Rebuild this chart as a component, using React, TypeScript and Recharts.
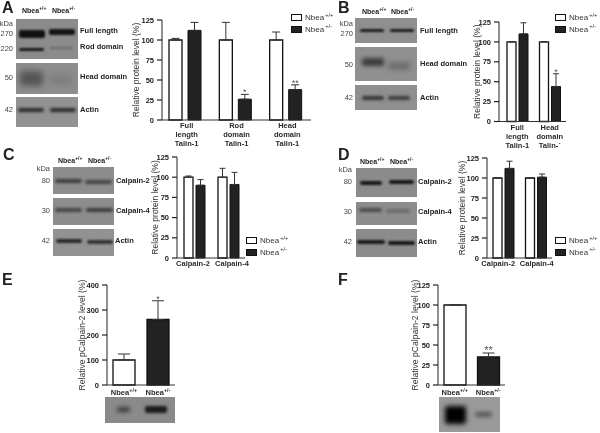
import { BarChart, Bar, XAxis, YAxis, ErrorBar, Legend, Label, LabelList, Cell } from 'recharts'

const FONT = '"Liberation Sans", Arial, sans-serif'
const INK = '#222'
const WT = 'Nbea+/+'
const KO = 'Nbea+/-'

// A
const catsA = ['Full\nlength\nTalin-1', 'Rod\ndomain\nTalin-1', 'Head\ndomain\nTalin-1']
const wtA = [100, 100, 100]
const koA = [112, 26, 38]
const wtErrA = [2, 22, 10]
const koErrA = [10, 6, 6]
const starsA = ['', '*', '**']

// B
const catsB = ['Full\nlength\nTalin-1', 'Head\ndomain\nTalin-´']
const wtB = [100, 100]
const koB = [110, 44]
const wtErrB = [0, 0]
const koErrB = [14, 16]
const starsB = ['', '*']

// C
const catsC = ['Calpain-2', 'Calpain-4']
const wtC = [100, 100]
const koC = [90, 91]
const wtErrC = [1.5, 11]
const koErrC = [7, 15]

// D
const catsD = ['Calpain-2', 'Calpain-4']
const wtD = [100, 100]
const koD = [112, 101]
const wtErrD = [0, 0]
const koErrD = [9, 4]

// E, F
const catsEF = [WT, KO]
const valuesE = [100, 262]
const errE = [24, 75]
const starsE = ['', '*']
const ticksE = [0, 100, 200, 300, 400]
const valuesF = [100, 35]
const errF = [0, 5]
const starsF = ['', '**']
const ticksPct = [0, 25, 50, 75, 100, 125]

const PAD_L = 60
const PAD_T = 10
const PAD_R = 16
const AXIS_H = 36

function Genotype({ name, size = 8, gap = 0 }: { name: string; size?: number; gap?: number }) {
  return (
    <>
      {name.slice(0, 4)}
      <sup style={{ fontSize: size * 0.72, lineHeight: 0, marginLeft: gap }}>{name.slice(4)}</sup>
    </>
  )
}

function CatTick({ x, y, payload, index, shift }: any) {
  const v = String(payload.value)
  const cx = x + (shift?.[index] ?? 0)
  if (v.startsWith('Nbea')) {
    return (
      <text x={cx} y={y + 2} textAnchor="middle" fontSize={7.5} fontWeight={700} fontFamily={FONT} fill="#2a2a2a">
        {v.slice(0, 4)}
        <tspan fontSize={5.5} dy={-3}>{v.slice(4)}</tspan>
      </text>
    )
  }
  return (
    <text x={cx} textAnchor="middle" fontSize={7.5} fontWeight={700} fontFamily={FONT} fill="#2a2a2a">
      {v.split('\n').map((line, i) => (
        <tspan key={i} x={cx} y={y + i * 9}>{line}</tspan>
      ))}
    </text>
  )
}

function LegendBox({ payload }: any) {
  return (
    <div style={{ fontFamily: FONT, fontSize: 8, color: '#333' }}>
      {(payload ?? []).map((p: any) => (
        <div key={p.value} style={{ display: 'flex', alignItems: 'center', height: 11.5 }}>
          <span style={{ width: 9, height: 5, border: '1.5px solid #111', background: p.value === WT ? '#fff' : '#222', marginRight: 3, display: 'inline-block' }} />
          <span><Genotype name={p.value} gap={1} /></span>
        </div>
      ))}
    </div>
  )
}

function Star({ viewBox, index, stars, errs, perUnit, size = 9 }: any) {
  const s = stars[index]
  if (!s || !viewBox) return null
  return (
    <text x={viewBox.x + viewBox.width / 2} y={viewBox.y - errs[index] * perUnit + 1} textAnchor="middle" fontSize={size} fill="#555" fontFamily={FONT}>
      {s}
    </text>
  )
}

type PanelProps = {
  x0: number; x1: number; yTop: number; yBot: number
  cats: string[]; wt: number[]; ko: number[]; wtErr: number[]; koErr: number[]
  stars?: string[]
  barSize: number; gap: number; capW: number; padLeft?: number
  tickShift?: number[]
  labelX: number
  legend?: { left: number; top: number }
}

function GroupedPanel(p: PanelProps) {
  const plotH = p.yBot - p.yTop
  const perUnit = plotH / 125
  const rows = p.cats.map((c, i) => ({ c, wt: p.wt[i], ko: p.ko[i], wtE: [0, p.wtErr[i]], koE: [0, p.koErr[i]] }))
  const cy = plotH / 2 + PAD_T
  const lx = p.labelX - p.x0 + PAD_L
  return (
    <div style={{ position: 'absolute', left: p.x0 - PAD_L, top: p.yTop - PAD_T }}>
      <BarChart
        width={p.x1 - p.x0 + PAD_L + PAD_R}
        height={plotH + PAD_T + AXIS_H}
        data={rows}
        margin={{ top: PAD_T, right: PAD_R, left: 0, bottom: 0 }}
        barSize={p.barSize}
        barGap={p.gap}
      >
        <XAxis dataKey="c" height={AXIS_H} tick={(tp: any) => <CatTick {...tp} shift={p.tickShift} />} tickLine={false} axisLine={{ stroke: '#333', strokeWidth: 1 }} interval={0} padding={{ left: p.padLeft ?? 0, right: 0 }} />
        <YAxis width={PAD_L} domain={[0, 125]} ticks={ticksPct} tickSize={5} tickMargin={3} axisLine={{ stroke: '#222', strokeWidth: 1 }} tickLine={{ stroke: '#222', strokeWidth: 1.2 }} tick={{ fontSize: 7.5, fontWeight: 700, fill: INK, fontFamily: FONT }} interval={0}>
          <Label content={() => (
            <text transform={`rotate(-90 ${lx} ${cy})`} x={lx} y={cy} textAnchor="middle" fontSize={8.5} fill="#333" fontFamily={FONT}>Relative protein level (%)</text>
          )} />
        </YAxis>
        {p.legend && (
          <Legend layout="vertical" align="center" verticalAlign="middle" content={<LegendBox />} wrapperStyle={{ left: p.legend.left - p.x0 + PAD_L, top: p.legend.top - p.yTop + PAD_T, width: 60, height: 24 }} />
        )}
        <Bar dataKey="wt" name={WT} fill="#fff" stroke="#111" strokeWidth={1.3} isAnimationActive={false}>
          <ErrorBar dataKey="wtE" width={p.capW} stroke="#333" strokeWidth={1} />
        </Bar>
        <Bar dataKey="ko" name={KO} fill="#222" stroke="#111" strokeWidth={1} isAnimationActive={false}>
          <ErrorBar dataKey="koE" width={p.capW} stroke="#333" strokeWidth={1} />
          {p.stars && (
            <LabelList dataKey="ko" content={(lp: any) => <Star {...lp} stars={p.stars} errs={p.koErr} perUnit={perUnit} />} />
          )}
        </Bar>
      </BarChart>
    </div>
  )
}

type SingleProps = {
  x0: number; x1: number; yTop: number; yBot: number
  values: number[]; errs: number[]; stars: string[]; ticks: number[]; max: number
  labelX: number; starSize?: number
}

function SinglePanel(p: SingleProps) {
  const plotH = p.yBot - p.yTop
  const rows = catsEF.map((c, i) => ({ c, v: p.values[i], e: [0, p.errs[i]] }))
  const cy = plotH / 2 + PAD_T
  const lx = p.labelX - p.x0 + PAD_L
  return (
    <div style={{ position: 'absolute', left: p.x0 - PAD_L, top: p.yTop - PAD_T }}>
      <BarChart width={p.x1 - p.x0 + PAD_L + PAD_R} height={plotH + PAD_T + 24} data={rows} margin={{ top: PAD_T, right: PAD_R, left: 0, bottom: 0 }} barSize={22}>
        <XAxis dataKey="c" height={24} tick={CatTick} tickLine={false} axisLine={{ stroke: '#333', strokeWidth: 1 }} interval={0} />
        <YAxis width={PAD_L} domain={[0, p.max]} ticks={p.ticks} tickSize={5} tickMargin={3} axisLine={{ stroke: '#222', strokeWidth: 1 }} tickLine={{ stroke: '#222', strokeWidth: 1.2 }} tick={{ fontSize: 7.5, fontWeight: 700, fill: INK, fontFamily: FONT }} interval={0}>
          <Label content={() => (
            <text transform={`rotate(-90 ${lx} ${cy})`} x={lx} y={cy} textAnchor="middle" fontSize={8.6} fill="#333" fontFamily={FONT}>Relative pCalpain-2 level (%)</text>
          )} />
        </YAxis>
        <Bar dataKey="v" stroke="#111" strokeWidth={1.3} isAnimationActive={false}>
          {rows.map((_, i) => <Cell key={i} fill={i === 0 ? '#fff' : '#222'} />)}
          <ErrorBar dataKey="e" width={6} stroke="#333" strokeWidth={1} />
          <LabelList dataKey="v" content={(lp: any) => <Star {...lp} stars={p.stars} errs={p.errs} perUnit={plotH / p.max} size={p.starSize ?? 9} />} />
        </Bar>
      </BarChart>
    </div>
  )
}

// [x, y, w, h, colour, blur]
type Band = [number, number, number, number, string, number]
type BlotDef = { x: number; y: number; w: number; h: number; bg: string; bands: Band[] }

const blots: BlotDef[] = [
  // A
  { x: 16, y: 19, w: 62, h: 40, bg: '#8b8b8b', bands: [[19, 30, 26, 8, '#111', 1.2], [49, 29, 26, 6, '#151515', 1.2], [19, 48, 25, 3, '#181818', 1], [50, 47, 23, 2, '#6a6a6a', 1]] },
  { x: 16, y: 63, w: 62, h: 31, bg: '#8e8e8e', bands: [[20, 71, 23, 15, '#555', 3], [50, 74, 22, 11, '#7e7e7e', 3]] },
  { x: 16, y: 97, w: 62, h: 30, bg: '#929292', bands: [[18, 108, 26, 4, '#2a2a2a', 1.4], [50, 108, 26, 4, '#2a2a2a', 1.4]] },
  // B
  { x: 355, y: 18, w: 62, h: 25, bg: '#8f8f8f', bands: [[360, 29, 24, 3, '#1a1a1a', 1], [390, 29, 24, 3, '#1a1a1a', 1]] },
  { x: 355, y: 47, w: 62, h: 34, bg: '#909090', bands: [[362, 58, 22, 8, '#3c3c3c', 2], [388, 62, 22, 8, '#6e6e6e', 2.5]] },
  { x: 355, y: 85, w: 62, h: 25, bg: '#8f8f8f', bands: [[362, 96, 22, 4, '#333', 1.4], [388, 96, 22, 4, '#3a3a3a', 1.4]] },
  // C
  { x: 53, y: 167, w: 61, h: 27, bg: '#8d8d8d', bands: [[55, 179, 27, 4, '#3a3a3a', 1.4], [85, 180, 27, 4, '#444', 1.4]] },
  { x: 53, y: 198, w: 61, h: 27, bg: '#8d8d8d', bands: [[55, 208, 27, 4, '#444', 1.4], [86, 208, 27, 4, '#3a3a3a', 1.4]] },
  { x: 53, y: 229, w: 61, h: 27, bg: '#929292', bands: [[56, 239, 26, 4, '#2a2a2a', 1.2], [87, 240, 26, 4, '#333', 1.2]] },
  // D
  { x: 356, y: 168, w: 61, h: 29, bg: '#8b8b8b', bands: [[360, 181, 22, 4, '#181818', 1.1], [389, 180, 25, 4, '#181818', 1.1]] },
  { x: 356, y: 202, w: 61, h: 23, bg: '#8d8d8d', bands: [[359, 208, 23, 4, '#4a4a4a', 1.5], [386, 209, 24, 4, '#6a6a6a', 1.8]] },
  { x: 356, y: 229, w: 61, h: 28, bg: '#8b8b8b', bands: [[357, 240, 28, 4, '#1a1a1a', 1.2], [388, 241, 27, 4, '#1a1a1a', 1.2]] },
  // E
  { x: 105, y: 397, w: 70, h: 26, bg: '#8a8a8a', bands: [[117, 407, 13, 5, '#3a3a3a', 2], [145, 406, 22, 7, '#1a1a1a', 1.8]] },
  // F
  { x: 439, y: 397, w: 61, h: 35, bg: '#9a9a9a', bands: [[445, 406, 21, 18, '#000', 2.5], [475, 412, 17, 5, '#555', 2]] },
]

function Blot({ x, y, w, h, bg, bands }: BlotDef) {
  return (
    <div style={{ position: 'absolute', left: x, top: y, width: w, height: h, background: bg, overflow: 'hidden' }}>
      {bands.map(([bx, by, bw, bh, c, b], i) => (
        <div key={i} style={{ position: 'absolute', left: bx - x, top: by - y, width: bw, height: bh, background: c, filter: `blur(${b}px)`, borderRadius: 2 }} />
      ))}
    </div>
  )
}

function Txt({ x, y, size = 7.5, bold = true, color = INK, right = false, children }: any) {
  return (
    <div style={{ position: 'absolute', top: y - size * 0.5, lineHeight: `${size}px`, fontFamily: FONT, fontSize: size, fontWeight: bold ? 700 : 400, color, whiteSpace: 'nowrap', ...(right ? { right: 600 - x } : { left: x }) }}>
      {children}
    </div>
  )
}

// [x, y, text]
const panelLetters: [number, number, string][] = [[2, 8, 'A'], [338, 8, 'B'], [3, 155, 'C'], [338, 155, 'D'], [2, 280, 'E'], [338, 280, 'F']]
const headers: [number, number, string][] = [[22, 10, WT], [52, 10, KO], [362, 11, WT], [391, 11, KO], [58, 160, WT], [88, 160, KO], [360, 161, WT], [390, 161, KO]]
const bandNames: [number, number, string][] = [
  [80, 31, 'Full length'], [80, 47, 'Rod domain'], [80, 77, 'Head domain'], [80, 110, 'Actin'],
  [420, 31, 'Full length'], [420, 64, 'Head domain'], [420, 98, 'Actin'],
  [116, 181, 'Calpain-2'], [116, 211, 'Calpain-4'], [115, 241, 'Actin'],
  [418, 182, 'Calpain-2'], [418, 212, 'Calpain-4'], [418, 242, 'Actin'],
]
const masses: [number, number, string][] = [
  [13, 24, 'kDa'], [13, 34, '270'], [13, 49, '220'], [13, 78, '50'], [13, 110, '42'],
  [353, 24, 'kDa'], [353, 34, '270'], [353, 65, '50'], [353, 98, '42'],
  [50, 169, 'kDa'], [50, 181, '80'], [50, 211, '30'], [50, 241, '42'],
  [352, 170, 'kDa'], [352, 182, '80'], [352, 212, '30'], [352, 242, '42'],
]

export default function App() {
  return (
    <div style={{ position: 'absolute', left: 0, top: 0, width: 600, height: 433, background: '#fff', overflow: 'hidden', filter: 'blur(0.3px)' }}>
      {blots.map((b, i) => <Blot key={i} {...b} />)}
      {panelLetters.map(([x, y, t]) => <Txt key={t} x={x} y={y} size={16}>{t}</Txt>)}
      {headers.map(([x, y, t], i) => <Txt key={i} x={x} y={y} size={7}><Genotype name={t} size={7} /></Txt>)}
      {bandNames.map(([x, y, t], i) => <Txt key={i} x={x} y={y} size={7.5}>{t}</Txt>)}
      {masses.map(([x, y, t], i) => <Txt key={i} x={x} y={y} size={7.5} bold={false} color="#444" right>{t}</Txt>)}

      <GroupedPanel x0={162} x1={311} yTop={20} yBot={120} cats={catsA} wt={wtA} ko={koA} wtErr={wtErrA} koErr={koErrA} stars={starsA} barSize={13} gap={6} capW={4} padLeft={-2} tickShift={[1.5, 1, 1.5]} labelX={139} legend={{ left: 291, top: 12 }} />
      <GroupedPanel x0={499} x1={566} yTop={21.5} yBot={121} cats={catsB} wt={wtB} ko={koB} wtErr={wtErrB} koErr={koErrB} stars={starsB} barSize={9} gap={3} capW={3} padLeft={2} labelX={480} legend={{ left: 555, top: 12 }} />
      <GroupedPanel x0={177} x1={245} yTop={157} yBot={258} cats={catsC} wt={wtC} ko={koC} wtErr={wtErrC} koErr={koErrC} barSize={9} gap={3} capW={3} tickShift={[-1, 4]} labelX={158} legend={{ left: 246, top: 235 }} />
      <GroupedPanel x0={487} x1={552} yTop={158} yBot={258} cats={catsD} wt={wtD} ko={koD} wtErr={wtErrD} koErr={koErrD} barSize={9} gap={3} capW={3} tickShift={[-5, 1]} labelX={465} legend={{ left: 555, top: 235 }} />
      <SinglePanel x0={107} x1={175} yTop={285} yBot={385} values={valuesE} errs={errE} stars={starsE} ticks={ticksE} max={400} labelX={85} />
      <SinglePanel x0={438} x1={505} yTop={285} yBot={385} values={valuesF} errs={errF} stars={starsF} ticks={ticksPct} max={125} labelX={418} starSize={11} />
    </div>
  )
}
